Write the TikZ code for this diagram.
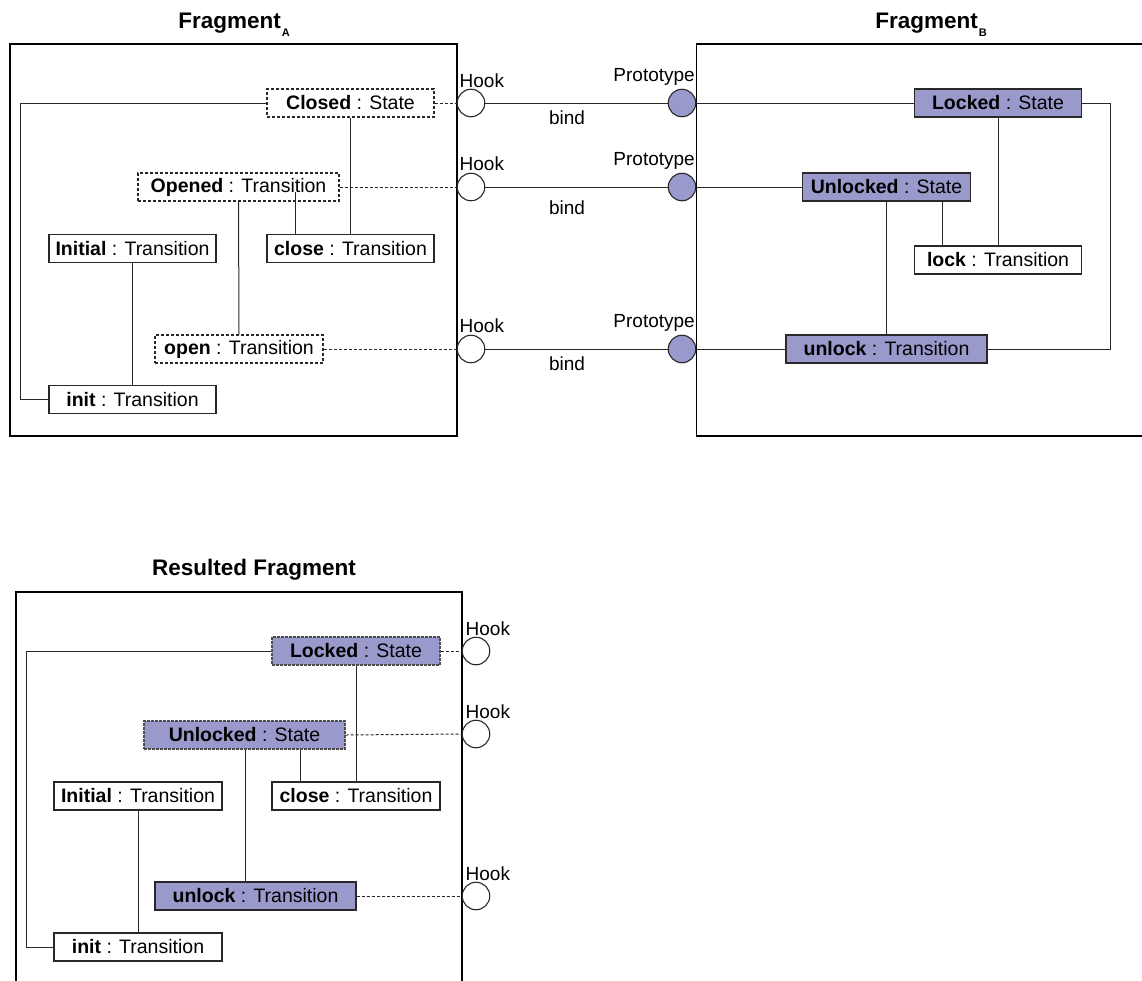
\documentclass[tikz,border=0pt]{standalone}
\usepackage{fontspec}
\setmainfont{Liberation Sans}
\definecolor{lav}{RGB}{153,153,204}
\definecolor{edge}{RGB}{40,40,40}
\newcommand\boxfont{\fontsize{19.5}{23}\selectfont}
\newcommand\lblfont{\fontsize{19}{22}\selectfont}
\newcommand\ttlfont{\fontsize{22.5}{26}\selectfont\bfseries}
\newcommand\subfont{\fontsize{11}{11}\selectfont\bfseries}
\begin{document}
\begin{tikzpicture}[x=1pt,y=-1pt,
  frame/.style={draw=black, line width=1.6pt},
  obj/.style={draw=edge, line width=1.1pt, minimum height=28pt, inner sep=0pt, font=\boxfont, fill=white},
  hooked/.style={obj, dash pattern=on 3pt off 2pt},
  filled/.style={obj, fill=lav},
  filleddash/.style={obj, fill=lav, draw=black!70, dash pattern=on 3pt off 1pt},
  conn/.style={draw=edge, line width=1pt},
  dconn/.style={draw=edge, line width=1pt, dash pattern=on 3pt off 2pt},
  hook/.style={circle, draw=edge, line width=1.1pt, fill=white, minimum size=27.5pt, inner sep=0pt},
  proto/.style={circle, draw=edge, line width=1.1pt, fill=lav, minimum size=27.5pt, inner sep=0pt},
  lbl/.style={font=\lblfont, inner sep=0pt},
  ttl/.style={font=\ttlfont, inner sep=0pt, anchor=base}
]
\useasboundingbox (0,0) rectangle (1142,980);

% ---------- titles ----------
\node[ttl] (tA) at (234,28) {Fragment\kern1pt\raisebox{-8.5pt}{\subfont A}};
\node[ttl] (tB) at (931,28) {Fragment\kern1pt\raisebox{-8.5pt}{\subfont B}};
\node[ttl] (tR) at (254,575) {Resulted Fragment};

% ---------- frames ----------
\draw[frame] (10,44) rectangle (457,436);
\draw[frame] (1145,44) -- (696.5,44) -- (696.5,436) -- (1145,436);
\draw[frame] (15.7,985) -- (15.7,592) -- (462,592) -- (462,985);

% ---------- Fragment A ----------
\node[hooked, minimum width=167pt] (closed) at (350.5,103) {\textbf{Closed} : State};
\node[hooked, minimum width=201pt] (opened) at (238.5,187) {\textbf{Opened} : Transition};
\node[obj, minimum width=167pt] (initialA) at (132.5,248.5) {\textbf{Initial} : Transition};
\node[obj, minimum width=167pt] (closeA) at (350.5,248.5) {\textbf{close} : Transition};
\node[hooked, minimum width=168pt] (openA) at (239,349) {\textbf{open} : Transition};
\node[obj, minimum width=167pt] (initA) at (132.5,399.5) {\textbf{init} : Transition};

\coordinate (xa1) at (20.5,0);
\coordinate (xa2) at (295,0);
\coordinate (ya2) at (0,192);
\draw[conn] (closed.west) -- (xa1 |- closed.west) -- (xa1 |- initA.west) -- (initA.west);
\draw[conn] (closed.south) -- (closeA.north);
\draw[conn] (opened.south) -- (openA.north);
\draw[conn] (xa2 |- ya2) -- (xa2 |- closeA.north);
\draw[conn] (initialA.south) -- (initA.north);

% ---------- hooks / prototypes ----------
\node[hook] (h1) at (471,103) {};
\node[hook] (h2) at (471,187) {};
\node[hook] (h3) at (471,349) {};
\node[proto] (p1) at (682,103) {};
\node[proto] (p2) at (682,187) {};
\node[proto] (p3) at (682,349) {};

\node[lbl, anchor=base west] (hl1) at (459.5,87) {Hook};
\node[lbl, anchor=base west] (hl2) at (459.5,170) {Hook};
\node[lbl, anchor=base west] (hl3) at (459.5,332) {Hook};
\node[lbl, anchor=base east] (pl1) at (695,81) {Prototype};
\node[lbl, anchor=base east] (pl2) at (695,165) {Prototype};
\node[lbl, anchor=base east] (pl3) at (695,327) {Prototype};
\node[lbl, anchor=base] (bl1) at (567,124) {bind};
\node[lbl, anchor=base] (bl2) at (567,214) {bind};
\node[lbl, anchor=base] (bl3) at (567,370) {bind};

\draw[dconn] (closed.east) -- (h1.west);
\draw[dconn] (opened.east) -- (h2.west);
\draw[dconn] (openA.east) -- (h3.west);
\draw[conn] (h1.east) -- (p1.west);
\draw[conn] (h2.east) -- (p2.west);
\draw[conn] (h3.east) -- (p3.west);

% ---------- Fragment B ----------
\node[filled, minimum width=167pt] (locked) at (998,103) {\textbf{Locked} : State};
\node[filled, minimum width=168pt] (unlocked) at (886.5,187) {\textbf{Unlocked} : State};
\node[obj, minimum width=167pt] (lock) at (998,260) {\textbf{lock} : Transition};
\node[filled, minimum width=201pt] (unlock) at (886.5,349) {\textbf{unlock} : Transition};

\draw[conn] (p1.east) -- (locked.west);
\draw[conn] (p2.east) -- (unlocked.west);
\draw[conn] (p3.east) -- (unlock.west);
\coordinate (xb1) at (1110,0);
\coordinate (xb2) at (942,0);
\draw[conn] (locked.east) -- (xb1 |- locked.east) -- (xb1 |- unlock.east) -- (unlock.east);
\draw[conn] (locked.south) -- (lock.north);
\draw[conn] (xb2 |- unlocked.south) -- (xb2 |- lock.north);
\draw[conn] (unlocked.south) -- (unlock.north);

% ---------- Resulted Fragment ----------
\node[filleddash, minimum width=168pt] (lockedR) at (356,651) {\textbf{Locked} : State};
\node[filleddash, minimum width=201pt] (unlockedR) at (244.5,735) {\textbf{Unlocked} : State};
\node[obj, minimum width=168pt] (initialR) at (138,796) {\textbf{Initial} : Transition};
\node[obj, minimum width=168pt] (closeR) at (356,796) {\textbf{close} : Transition};
\node[filled, minimum width=201pt] (unlockR) at (255.5,896) {\textbf{unlock} : Transition};
\node[obj, minimum width=168pt] (initR) at (138,947) {\textbf{init} : Transition};

\coordinate (xr1) at (26,0);
\coordinate (xr2) at (245,0);
\coordinate (xr3) at (300,0);
\draw[conn] (lockedR.west) -- (xr1 |- lockedR.west) -- (xr1 |- initR.west) -- (initR.west);
\draw[conn] (lockedR.south) -- (closeR.north);
\draw[conn] (xr2 |- unlockedR.south) -- (xr2 |- unlockR.north);
\draw[conn] (xr3 |- unlockedR.south) -- (xr3 |- closeR.north);
\draw[conn] (initialR.south) -- (initR.north);

\node[hook] (hr1) at (476,651) {};
\node[hook] (hr2) at (476,734) {};
\node[hook] (hr3) at (476,896) {};
\node[lbl, anchor=base west] (hrl1) at (465.5,635) {Hook};
\node[lbl, anchor=base west] (hrl2) at (465.5,718) {Hook};
\node[lbl, anchor=base west] (hrl3) at (465.5,880) {Hook};
\draw[dconn] (lockedR.east) -- (hr1.west);
\draw[dconn] (unlockedR.east) -- (hr2.west);
\draw[dconn] (unlockR.east) -- (hr3.west);
\end{tikzpicture}
\end{document}
